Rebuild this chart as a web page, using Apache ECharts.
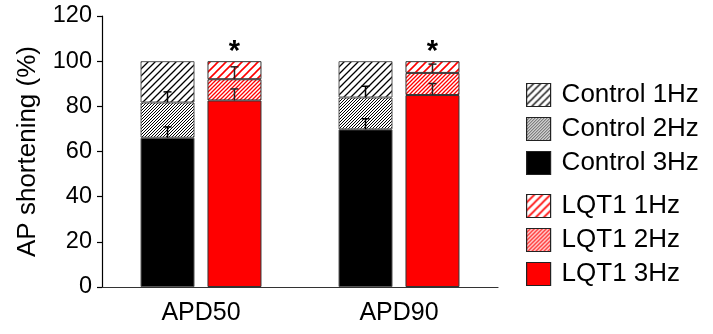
<!DOCTYPE html>
<html>
<head>
<meta charset="utf-8">
<script src="https://cdn.jsdelivr.net/npm/echarts@6/dist/echarts.min.js"></script>
<style>html,body{margin:0;padding:0;background:#fff}#c{width:713px;height:334px}</style>
</head>
<body>
<div id="c"></div>
<script>
// ---- data ----
const categories = ['APD50', 'APD90'];
const control1Hz = [100, 100];
const control2Hz = [81.7, 83.9];
const control3Hz = [66.1, 69.8];
const lqt1Hz = [100, 100];
const lqt2Hz = [92.0, 94.8];
const lqt3Hz = [82.6, 85.0];
const control2HzErr = [4.7, 5.0];
const control3HzErr = [4.8, 4.7];
const lqt2HzErr = [5.5, 3.9];
const lqt3HzErr = [5.1, 5.1];
const significance = ['*', '*'];
const yMin = 0, yMax = 120, yStep = 20;

// ---- styling ----
const FONT = 'Liberation Sans, Arial, sans-serif';
const BAR_W = 54, BAR_GAP = 0.24;
const OFF = BAR_W * (1 + BAR_GAP) / 2;

function hatch(s, lw, color, bg) {
  const c = document.createElement('canvas');
  c.width = s; c.height = s;
  const g = c.getContext('2d');
  g.fillStyle = bg; g.fillRect(0, 0, s, s);
  g.strokeStyle = color; g.lineWidth = lw;
  g.beginPath();
  g.moveTo(0, s); g.lineTo(s, 0);
  g.moveTo(-s / 2, s / 2); g.lineTo(s / 2, -s / 2);
  g.moveTo(s / 2, s * 1.5); g.lineTo(s * 1.5, s / 2);
  g.stroke();
  return { image: c, repeat: 'repeat' };
}

const diff = (a, b) => a.map((v, i) => +(v - b[i]).toFixed(2));

function barSeries(name, stack, data, color, border) {
  return {
    name, type: 'bar', stack, data,
    barWidth: BAR_W, barGap: (BAR_GAP * 100) + '%',
    itemStyle: { color, borderColor: border, borderWidth: 1 },
    emphasis: { disabled: true }, silent: true
  };
}

function errSeries(side, lows, errs, color) {
  const data = [];
  lows.forEach((arr, k) => arr.forEach((v, i) => data.push([i, v, v + errs[k][i]])));
  return {
    type: 'custom', silent: true, z: 5,
    encode: { x: 0, y: [1, 2] },
    data,
    renderItem(params, api) {
      const lo = api.coord([api.value(0), api.value(1)]);
      const hi = api.coord([api.value(0), api.value(2)]);
      const x = lo[0] + side * OFF;
      const st = { stroke: color, lineWidth: 1.5 };
      return {
        type: 'group', children: [
          { type: 'line', shape: { x1: x, y1: lo[1], x2: x, y2: hi[1] }, style: st },
          { type: 'line', shape: { x1: x - 4, y1: hi[1], x2: x + 4, y2: hi[1] }, style: st }
        ]
      };
    }
  };
}

const chart = echarts.init(document.getElementById('c'), null, { renderer: 'canvas' });

const legendBase = {
  orient: 'vertical', left: 521, itemWidth: 24, itemHeight: 23, itemGap: 8,
  icon: 'rect', selectedMode: false,
  itemStyle: { borderColor: '#222', borderWidth: 1.2 },
  textStyle: { fontSize: 26, fontFamily: FONT, color: '#000', padding: [0, 0, 0, 6] }
};

chart.setOption({
  animation: false,
  grid: { left: 102, right: 215, top: 16, bottom: 47 },
  legend: [
    Object.assign({ top: 77, data: ['Control 1Hz', 'Control 2Hz', 'Control 3Hz'] }, legendBase),
    Object.assign({ top: 188, data: ['LQT1 1Hz', 'LQT1 2Hz', 'LQT1 3Hz'] }, legendBase)
  ],
  xAxis: {
    type: 'category', data: categories,
    axisLine: { lineStyle: { color: '#333', width: 1.2 } },
    axisTick: { show: false },
    axisLabel: { fontSize: 25, fontFamily: FONT, color: '#000', margin: 14 }
  },
  yAxis: {
    type: 'value', min: yMin, max: yMax, interval: yStep,
    name: 'AP shortening (%)', nameLocation: 'middle', nameGap: 61,
    nameTextStyle: { fontSize: 26, fontFamily: FONT, color: '#000' },
    axisLine: { show: true, lineStyle: { color: '#000', width: 1.2 } },
    axisTick: { show: true, inside: false, length: 5, lineStyle: { color: '#000', width: 1.2 } },
    axisLabel: { fontSize: 23.5, fontFamily: FONT, color: '#000', margin: 10 },
    splitLine: { show: false }
  },
  series: [
    barSeries('Control 3Hz', 'ctrl', control3Hz, '#000', '#555'),
    barSeries('Control 2Hz', 'ctrl', diff(control2Hz, control3Hz), hatch(3, 1.0, '#000', '#fff'), '#555'),
    barSeries('Control 1Hz', 'ctrl', diff(control1Hz, control2Hz), hatch(7, 1.3, '#000', '#fff'), '#555'),
    barSeries('LQT1 3Hz', 'lqt', lqt3Hz, '#ff0000', '#333'),
    barSeries('LQT1 2Hz', 'lqt', diff(lqt2Hz, lqt3Hz), hatch(4, 1.3, '#ff0000', '#fff'), '#333'),
    barSeries('LQT1 1Hz', 'lqt', diff(lqt1Hz, lqt2Hz), hatch(8, 1.6, '#ff0000', '#fff'), '#333'),
    errSeries(-1, [control3Hz, control2Hz], [control3HzErr, control2HzErr], '#000'),
    errSeries(1, [lqt3Hz, lqt2Hz], [lqt3HzErr, lqt2HzErr], '#222'),
    {
      type: 'custom', silent: true, z: 6,
      data: significance.map((s, i) => [i, lqt1Hz[i], s]),
      encode: { x: 0, y: 1 },
      renderItem(params, api) {
        const p = api.coord([api.value(0), api.value(1)]);
        return {
          type: 'text',
          style: {
            x: p[0] + OFF, y: p[1] - 9, text: significance[params.dataIndex],
            fontSize: 29, fontWeight: 'bold', fontFamily: FONT, fill: '#000',
            align: 'center', verticalAlign: 'middle'
          }
        };
      }
    }
  ]
});
</script>
</body>
</html>
